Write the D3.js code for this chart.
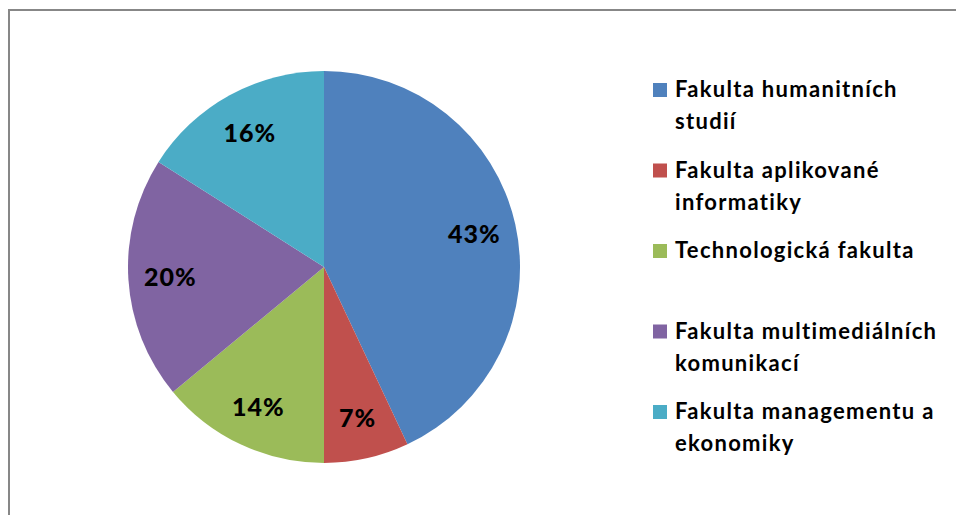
<!DOCTYPE html>
<html>
<head>
<meta charset="utf-8">
<script src="https://cdn.jsdelivr.net/npm/d3@7"></script>
<style>
  body { margin: 0; background: #fff; }
  svg { display: block; }
  text { font-variant-ligatures: none; }
</style>
</head>
<body>
<div id="container"></div>
<script>
const categories = [
  "Fakulta humanitních studií",
  "Fakulta aplikované informatiky",
  "Technologická fakulta",
  "Fakulta multimediálních komunikací",
  "Fakulta managementu a ekonomiky",
];
// legend text broken into lines as in the original
const legendLines = [
  ["Fakulta humanitních", "studií"],
  ["Fakulta aplikované", "informatiky"],
  ["Technologická fakulta"],
  ["Fakulta multimediálních", "komunikací"],
  ["Fakulta managementu a", "ekonomiky"],
];
const values = [43, 7, 14, 20, 16];
const colors = ["#4F81BD", "#C0504D", "#9BBB59", "#8064A2", "#4BACC6"];

const w = 956;
const h = 515;
const cx = 324;
const cy = 267;
const radius = 196;
const font = "Lato, 'Open Sans', sans-serif";

const svg = d3
  .select("#container")
  .append("svg")
  .attr("width", w)
  .attr("height", h);

// chart frame (runs off the right and bottom edge)
svg
  .append("rect")
  .attr("x", 9)
  .attr("y", 10)
  .attr("width", w + 20)
  .attr("height", h + 20)
  .attr("fill", "none")
  .attr("stroke", "#878787")
  .attr("stroke-width", 2);

const pie = d3.pie().sort(null).value((d) => d);
const arcs = pie(values);

const arc = d3.arc().innerRadius(0).outerRadius(radius);
const labelArc = d3.arc().innerRadius(154).outerRadius(154);

const g = svg.append("g").attr("transform", `translate(${cx}, ${cy})`);

g.selectAll("path")
  .data(arcs)
  .enter()
  .append("path")
  .attr("d", arc)
  .attr("fill", (d, i) => colors[i]);

g.selectAll("text")
  .data(arcs)
  .enter()
  .append("text")
  .attr("transform", (d) => `translate(${labelArc.centroid(d)})`)
  .attr("text-anchor", "middle")
  .attr("dy", "0.38em")
  .attr("font-family", font)
  .attr("font-weight", 900)
  .attr("font-size", 25)
  .attr("letter-spacing", 1)
  .attr("fill", "#000")
  .text((d) => d.data + "%");

// legend
const legendY = d3
  .scalePoint()
  .domain(categories)
  .range([83, 405]);

const legend = svg
  .append("g")
  .selectAll("g")
  .data(categories)
  .enter()
  .append("g")
  .attr("transform", (d) => `translate(653, ${legendY(d)})`);

legend
  .append("rect")
  .attr("width", 14)
  .attr("height", 14)
  .attr("fill", (d, i) => colors[i]);

legend
  .append("text")
  .attr("font-family", font)
  .attr("font-weight", "bold")
  .attr("font-size", 22)
  .attr("letter-spacing", 1.3)
  .attr("fill", "#000")
  .selectAll("tspan")
  .data((d, i) => legendLines[i])
  .enter()
  .append("tspan")
  .attr("x", 22)
  .attr("y", (d, i) => 14 + i * 32)
  .text((d) => d);
</script>
</body>
</html>
